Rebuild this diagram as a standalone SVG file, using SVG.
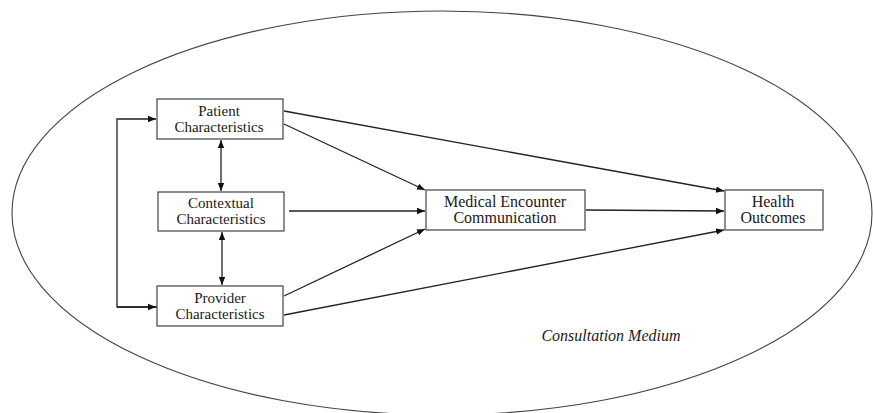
<svg xmlns="http://www.w3.org/2000/svg" width="873" height="413" viewBox="0 0 873 413">
<defs>
<marker id="ah" viewBox="0 0 10 10" refX="10" refY="5" markerWidth="8" markerHeight="8" markerUnits="userSpaceOnUse" orient="auto-start-reverse">
<path d="M0,1 L10,5 L0,9 z" fill="#111"/>
</marker>
<style>
.box{fill:#fff;stroke:#444;stroke-width:1.2}
.t{font-family:"Liberation Serif","Times New Roman",serif;font-size:15px;fill:#1a1a1a;text-anchor:middle}
.t2{font-size:16px}
.c{fill:none;stroke:#222;stroke-width:1.3}
</style>
</defs>
<rect width="873" height="413" fill="#fff"/>
<ellipse cx="442" cy="213" rx="430" ry="202" fill="none" stroke="#444" stroke-width="1.1"/>
<g id="connectors">
<path class="c" d="M157,307 L117,307 L117,119 L156,119" marker-end="url(#ah)"/>
<path class="c" d="M117,307 L156,307" marker-end="url(#ah)"/>
<line class="c" x1="221" y1="140" x2="221" y2="191" marker-start="url(#ah)" marker-end="url(#ah)"/>
<line class="c" x1="222" y1="232" x2="222" y2="285" marker-start="url(#ah)" marker-end="url(#ah)"/>
<line class="c" x1="284" y1="111" x2="724" y2="191" marker-end="url(#ah)"/>
<line class="c" x1="284" y1="124" x2="425" y2="190" marker-end="url(#ah)"/>
<line class="c" x1="289" y1="211" x2="425" y2="211" marker-end="url(#ah)"/>
<line class="c" x1="284" y1="296" x2="425" y2="229" marker-end="url(#ah)"/>
<line class="c" x1="284" y1="315" x2="724" y2="230" marker-end="url(#ah)"/>
<line class="c" x1="586" y1="210" x2="724" y2="211" marker-end="url(#ah)"/>
</g>
<g id="patient">
<rect class="box" x="157" y="99" width="126" height="40"/>
<text class="t" x="219" y="116">Patient</text>
<text class="t" x="219" y="132">Characteristics</text>
</g>
<g id="contextual">
<rect class="box" x="158" y="192" width="126" height="39"/>
<text class="t" x="221" y="208">Contextual</text>
<text class="t" x="221" y="224">Characteristics</text>
</g>
<g id="provider">
<rect class="box" x="157" y="286" width="126" height="40"/>
<text class="t" x="220" y="303">Provider</text>
<text class="t" x="220" y="319">Characteristics</text>
</g>
<g id="medical">
<rect class="box" x="426" y="190" width="159" height="40"/>
<text class="t t2" x="505" y="207">Medical Encounter</text>
<text class="t t2" x="505" y="223">Communication</text>
</g>
<g id="health">
<rect class="box" x="725" y="190" width="98" height="40"/>
<text class="t t2" x="773" y="207">Health</text>
<text class="t t2" x="773" y="223">Outcomes</text>
</g>
<text x="611" y="341" class="t t2" font-style="italic">Consultation Medium</text>
</svg>
